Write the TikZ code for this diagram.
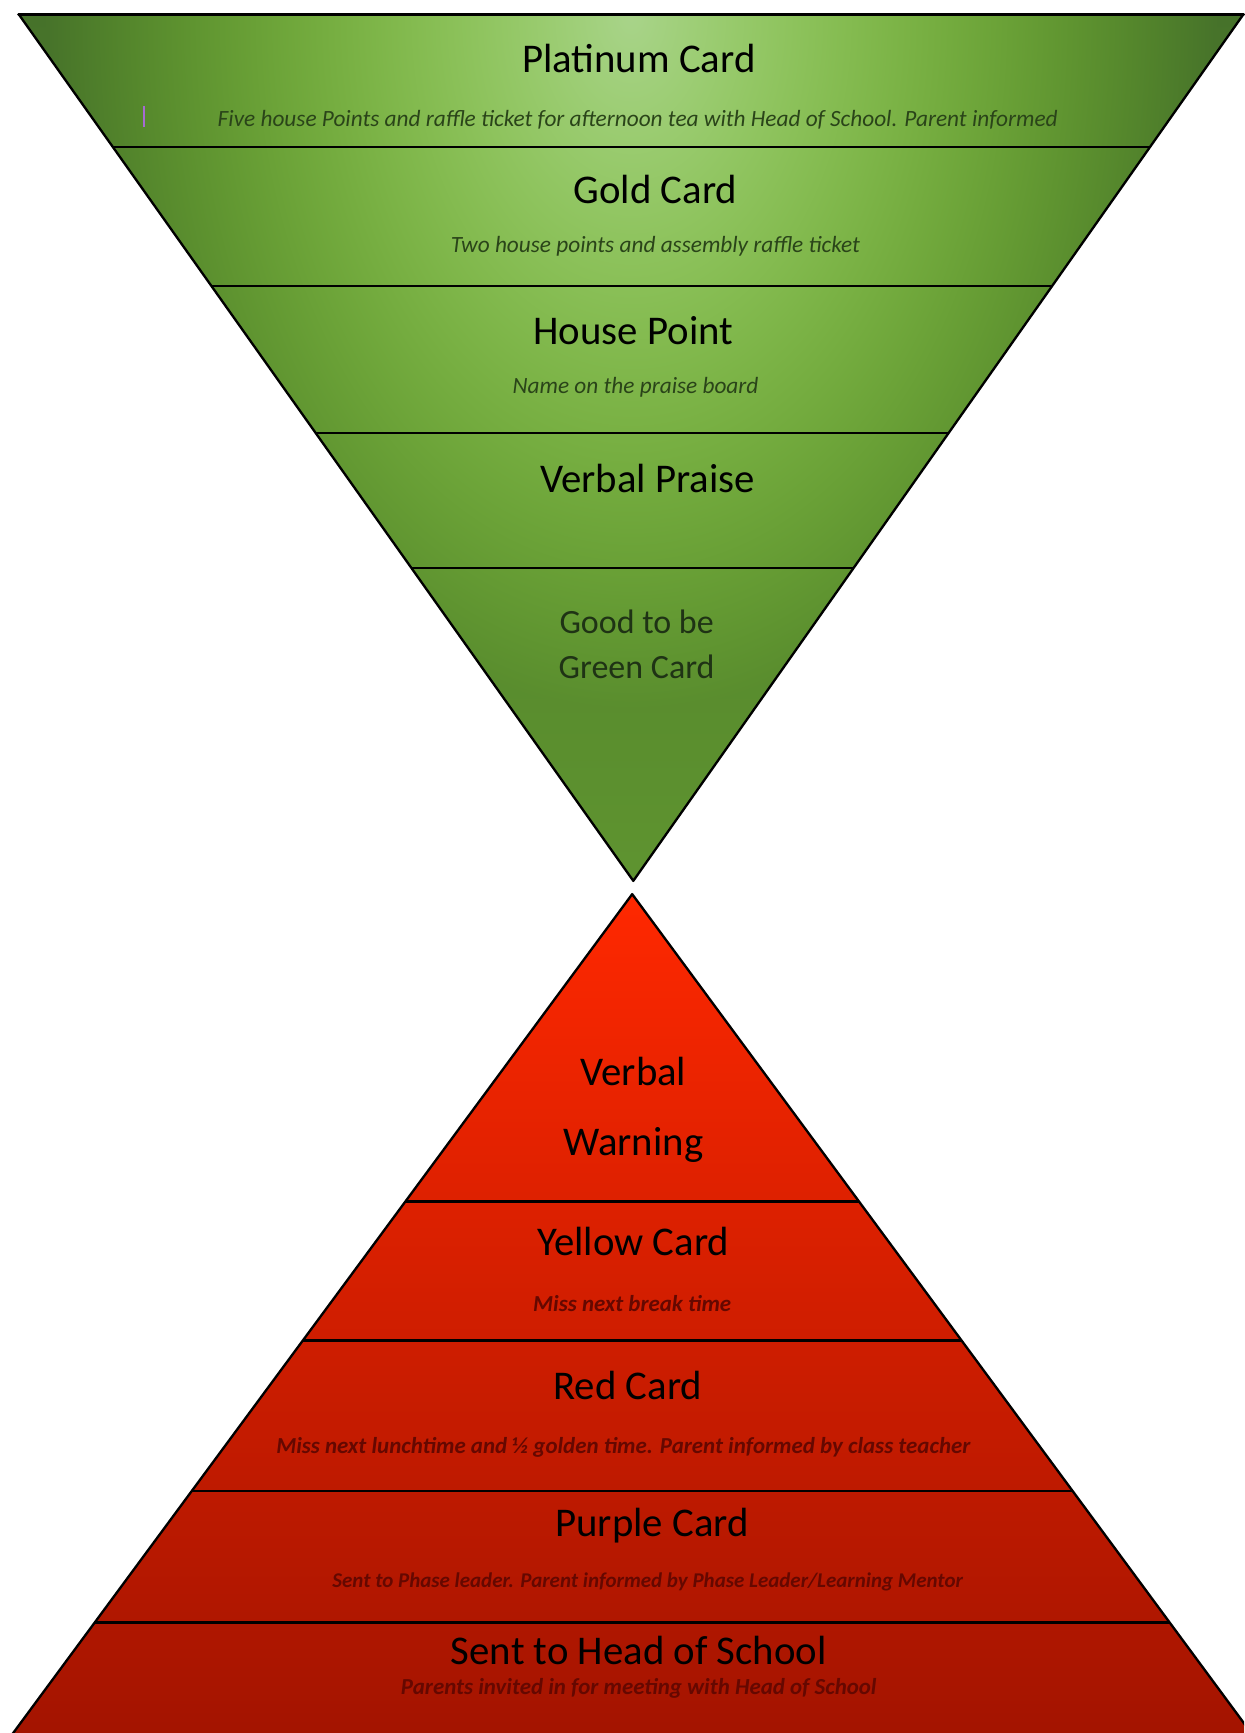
\documentclass[tikz,border=0pt]{standalone}
\usepackage{fontspec}
\setmainfont{Carlito}
\definecolor{grntext}{HTML}{2A4419}
\definecolor{grngood}{HTML}{1F3315}
\definecolor{redtop}{HTML}{FF2800}
\definecolor{redmid}{HTML}{E42200}
\definecolor{redlow}{HTML}{A01300}
\definecolor{redtext}{HTML}{650800}
\definecolor{cursor}{HTML}{A66BD3}
\pgfdeclarefunctionalshading{greenglow}{\pgfpoint{-50bp}{-50bp}}{\pgfpoint{50bp}{50bp}}{}{
	25 exch sub 50 div
	exch 24 div dup mul
	1 index dup mul add sqrt
	1 exch sub
	dup abs add 2 div
	exch 0.25 mul
	2 copy sub abs add add 2 div
	dup 0.385 mul 0.275 add
	exch
	dup 1.5 mul 1 index dup mul 0.5 mul sub 0.383 mul 0.447 add
	exch dup mul 0.375 mul 0.165 add
}
\begin{document}
\begin{tikzpicture}[x=0.02cm,y=-0.02cm,line join=round,line cap=round,
	title/.style={font=\fontsize{21}{24}\selectfont},
	small/.style={font=\fontsize{17.5}{23}\selectfont,text=grngood,align=center},
	grnsub/.style={font=\fontsize{12}{14}\selectfont\itshape,text=grntext},
	redsub/.style={font=\fontsize{11.8}{14}\selectfont\bfseries\itshape,text=redtext}]
	\useasboundingbox (0,0) rectangle (1125.6,1568);
	\coordinate (gl) at (17,13); \coordinate (gr) at (1125,13); \coordinate (ga) at (573,797);
	\coordinate (ra) at (572,809); \coordinate (rl) at (-8,1595); \coordinate (rr) at (1152,1595);
	\shade[shading=greenglow] (gl)--(gr)--(ga)--cycle;
	\begin{scope}
		\clip (gl)--(gr)--(ga)--cycle;
		\foreach \y in {133,259,392,514} \draw[line width=1.2pt] (0,\y)--(1126,\y);
	\end{scope}
	\draw[line width=1.2pt] (gl)--(gr)--(ga)--cycle;
	\draw[line width=1.8pt] (gl)--(gr);
	\begin{scope}
		\clip (0,0) rectangle (1125.6,1568);
		\shade[top color=redtop,middle color=redmid,bottom color=redlow] (ra)--(rr)--(rl)--cycle;
		\begin{scope}
			\clip (ra)--(rr)--(rl)--cycle;
			\foreach \y in {1087,1213,1349,1468} \draw[line width=1.2pt] (0,\y)--(1126,\y);
		\end{scope}
		\draw[line width=1.2pt] (rl)--(ra)--(rr);
	\end{scope}
	\draw[cursor,line width=1.1pt,line cap=butt] (130,96)--(130,115);
	\node[title] (plat) at (578,53) {Platinum Card};
	\node[grnsub] (platsub) at (577,108) {Five house Points and raffle ticket for afternoon tea with Head of School. Parent informed};
	\node[title] (gold) at (593,171) {Gold Card};
	\node[grnsub] (goldsub) at (593,223) {Two house points and assembly raffle ticket};
	\node[title] (house) at (573,299) {House Point};
	\node[grnsub] (housesub) at (575,350) {Name on the praise board};
	\node[title] (praise) at (586,433) {Verbal Praise};
	\node[small] (green) at (576,583) {Good to be\\Green Card};
	\node[title,align=center,font=\fontsize{21}{36}\selectfont] (warning) at (573,1004) {Verbal\\Warning};
	\node[title] (yellow) at (573,1123) {Yellow Card};
	\node[redsub] (yellowsub) at (572,1179) {Miss next break time};
	\node[title] (redcard) at (568,1254) {Red Card};
	\node[redsub] (redsub) at (564,1310) {Miss next lunchtime and ½ golden time. Parent informed by class teacher};
	\node[title] (purple) at (590,1380) {Purple Card};
	\node[redsub,font=\fontsize{10.8}{13}\selectfont\bfseries\itshape] (purplesub) at (586,1431) {Sent to Phase leader. Parent informed by Phase Leader/Learning Mentor};
	\node[title] (head) at (578,1493) {Sent to Head of School};
	\node[redsub] (headsub) at (578,1528) {Parents invited in for meeting with Head of School};
\end{tikzpicture}
\end{document}
